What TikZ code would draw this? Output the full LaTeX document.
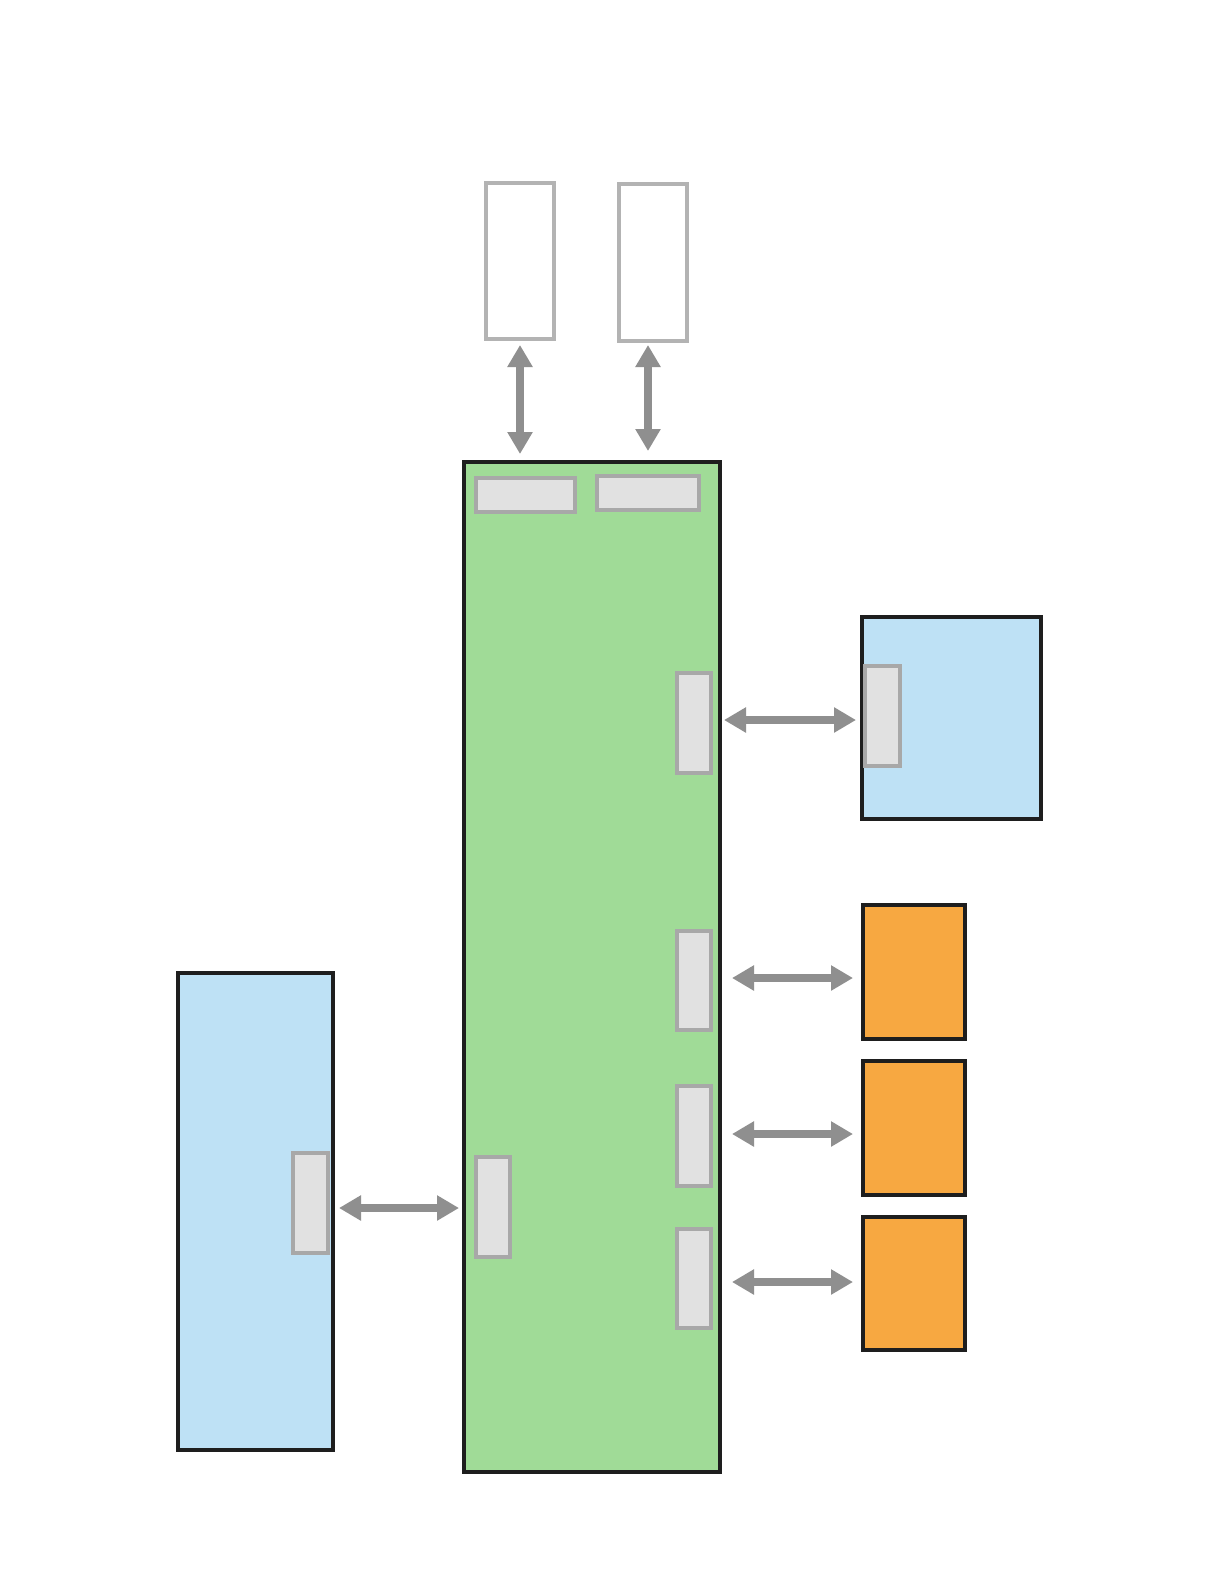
\documentclass[tikz,border=0pt]{standalone}
\usetikzlibrary{arrows.meta,calc}
\definecolor{boardgreen}{HTML}{A0DB97}
\definecolor{boxblue}{HTML}{BEE1F5}
\definecolor{boxorange}{HTML}{F7A841}
\definecolor{portfill}{HTML}{E1E1E1}
\definecolor{portline}{HTML}{A8A8A8}
\definecolor{topline}{HTML}{B3B3B3}
\definecolor{arrowgray}{HTML}{8F8F8F}
\definecolor{edge}{HTML}{1E1E1E}
\begin{document}
\begin{tikzpicture}[x=1pt,y=-1pt,
  box/.style={draw=edge,line width=3.2pt,inner sep=0pt,outer sep=0pt,rectangle},
  port/.style={draw=portline,fill=portfill,line width=3.2pt,inner sep=0pt,outer sep=0pt,rectangle},
  empty/.style={draw=topline,fill=white,line width=3.2pt,inner sep=0pt,outer sep=0pt,rectangle},
  arr/.style={draw=arrowgray,line width=8.5pt,{Triangle[length=22pt,width=24pt]}-{Triangle[length=22pt,width=24pt]}}]
\useasboundingbox[fill=white] (0,0) rectangle (1219,1587);
% top empty boxes
\node[empty,minimum width=68pt,minimum height=156pt] (top1) at (520,261) {};
\node[empty,minimum width=68pt,minimum height=157pt] (top2) at (653,262.5) {};
% main board
\node[box,fill=boardgreen,minimum width=256pt,minimum height=1010pt] (green) at (592,967) {};
\node[port,minimum width=99pt,minimum height=34pt] (gpt1) at (525.5,495) {};
\node[port,minimum width=102pt,minimum height=34pt] (gpt2) at (648,493) {};
\node[port,minimum width=34pt,minimum height=100pt] (gpr1) at (694,723) {};
\node[port,minimum width=34pt,minimum height=99pt] (gpr2) at (694,980.5) {};
\node[port,minimum width=34pt,minimum height=100pt] (gpr3) at (694,1136) {};
\node[port,minimum width=34pt,minimum height=99pt] (gpr4) at (694,1278.5) {};
\node[port,minimum width=34pt,minimum height=100pt] (gpl) at (493,1207) {};
% right blue box
\node[box,fill=boxblue,minimum width=179pt,minimum height=202pt] (blueR) at (951.5,718) {};
\node[port,minimum width=35pt,minimum height=100pt] (bpr) at (882.5,716) {};
% left blue box
\node[box,fill=boxblue,minimum width=155pt,minimum height=477pt] (blueL) at (255.5,1211.5) {};
\node[port,minimum width=35pt,minimum height=100pt] (bpl) at (310.5,1203) {};
% orange boxes
\node[box,fill=boxorange,minimum width=102pt,minimum height=134pt] (or1) at (914,972) {};
\node[box,fill=boxorange,minimum width=102pt,minimum height=134pt] (or2) at (914,1128) {};
\node[box,fill=boxorange,minimum width=102pt,minimum height=133pt] (or3) at (914,1283.5) {};
% connectors
\draw[arr] ([yshift=-6pt]top1.south) -- ([yshift=8pt]top1.south |- green.north);
\draw[arr] ([yshift=-4pt]gpt2.north |- top2.south) -- ([yshift=11pt]gpt2.north |- green.north);
\coordinate (r1) at (0,720);
\coordinate (r2) at (0,978);
\coordinate (r3) at (0,1134);
\coordinate (r4) at (0,1282);
\coordinate (l1) at (0,1208);
\draw[arr] ([xshift=4pt]green.east |- r1) -- ([xshift=-6pt]blueR.west |- r1);
\draw[arr] ([xshift=12pt]green.east |- r2) -- ([xshift=-10pt]or1.west |- r2);
\draw[arr] ([xshift=12pt]green.east |- r3) -- ([xshift=-10pt]or2.west |- r3);
\draw[arr] ([xshift=12pt]green.east |- r4) -- ([xshift=-10pt]or3.west |- r4);
\draw[arr] ([xshift=6pt]blueL.east |- l1) -- ([xshift=-5pt]green.west |- l1);
\end{tikzpicture}
\end{document}
